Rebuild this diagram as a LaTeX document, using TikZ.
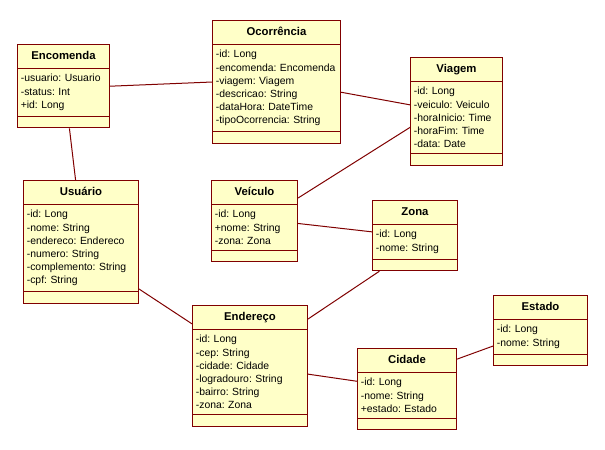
\documentclass[tikz,border=0pt]{standalone}
\usepackage{fontspec}
\setmainfont{Liberation Sans}
\usepackage{xcolor}
\usepackage{tikz}
\usetikzlibrary{shapes.multipart}
\definecolor{umlline}{RGB}{128,0,0}
\definecolor{umlfill}{RGB}{255,255,200}
\newcommand{\ctitle}[1]{{\centering\fontsize{8.5}{9.5}\selectfont\bfseries\rule[-2.6pt]{0pt}{9.25pt}#1\par}}

\begin{document}
\begin{tikzpicture}[x=0.75pt,y=-0.75pt,
  classbox/.style={rectangle split, rectangle split parts=3,
    draw=umlline, fill=umlfill, line width=0.75pt,
    anchor=north west, align=left, inner xsep=2.5pt, inner ysep=4pt,
    font=\fontsize{7.8}{9.9}\selectfont\frenchspacing},
  assoc/.style={draw=umlline, line width=0.75pt}]
\path[use as bounding box, fill=white] (0,0) rectangle (605,449);
%
\node[classbox, text width=64pt] (enc) at (17,44) {\ctitle{Encomenda}
\nodepart{two}-usuario: Usuario\\-status: Int\\+id: Long
\nodepart{three}};
\node[classbox, text width=91pt] (oco) at (212,20) {\ctitle{Ocorrência}
\nodepart{two}-id: Long\\-encomenda: Encomenda\\-viagem: Viagem\\-descricao: String\\-dataHora: DateTime\\-tipoOcorrencia: String
\nodepart{three}};
\node[classbox, text width=64pt] (via) at (410,57) {\ctitle{Viagem}
\nodepart{two}-id: Long\\-veiculo: Veiculo\\-horaInicio: Time\\-horaFim: Time\\-data: Date
\nodepart{three}};
%
\node[classbox, text width=81.25pt] (usu) at (23,180) {\ctitle{Usuário}
\nodepart{two}-id: Long\\-nome: String\\-endereco: Endereco\\-numero: String\\-complemento: String\\-cpf: String
\nodepart{three}};
\node[classbox, text width=59.5pt] (vei) at (211,180) {\ctitle{Veículo}
\nodepart{two}-id: Long\\+nome: String\\-zona: Zona
\nodepart{three}};
\node[classbox, text width=58.75pt] (zon) at (372,200) {\ctitle{Zona}
\nodepart{two}-id: Long\\-nome: String
\nodepart{three}};
%
\node[classbox, text width=81.25pt] (end) at (192,305) {\ctitle{Endereço}
\nodepart{two}-id: Long\\-cep: String\\-cidade: Cidade\\-logradouro: String\\-bairro: String\\-zona: Zona
\nodepart{three}};
\node[classbox, text width=69.25pt] (cid) at (357,348) {\ctitle{Cidade}
\nodepart{two}-id: Long\\-nome: String\\+estado: Estado
\nodepart{three}};
\node[classbox, text width=65.5pt] (est) at (493,295) {\ctitle{Estado}
\nodepart{two}-id: Long\\-nome: String
\nodepart{three}};
%
\draw[assoc] (enc.east) -- (oco.west);
\draw[assoc] (enc.-82) -- (usu.95);
\draw[assoc] (oco.-9) -- (via.172);
\draw[assoc] (via.199) -- (vei.28);
\draw[assoc] (vei.-3) -- (zon.175);
\draw[assoc] (usu.-39) -- (end.144);
\draw[assoc] (end.39) -- (zon.225);
\draw[assoc] (end.-8) -- (cid.171);
\draw[assoc] (cid.31) -- (est.198);
\end{tikzpicture}
\end{document}
